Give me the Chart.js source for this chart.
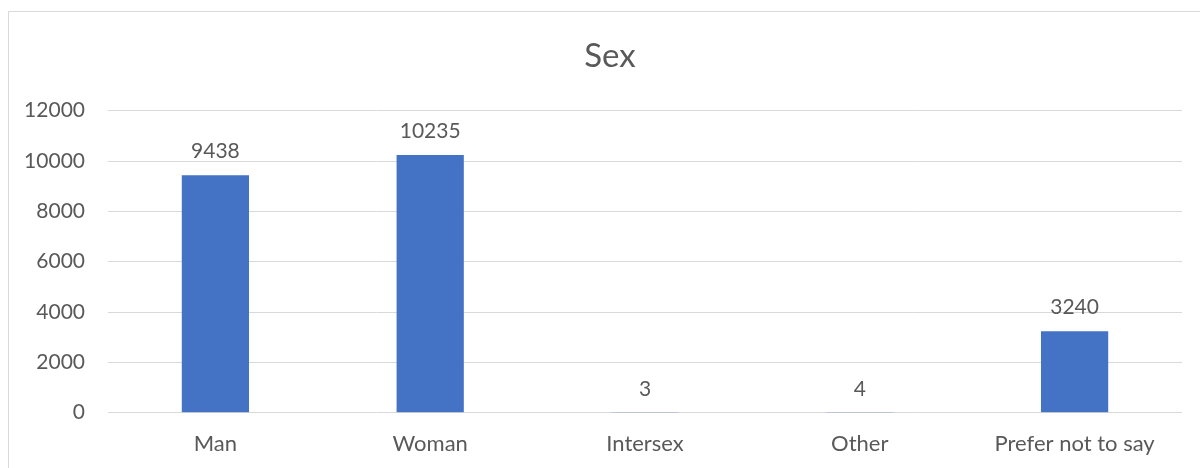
<!DOCTYPE html>
<html>
<head>
<meta charset="utf-8">
<script src="https://cdn.jsdelivr.net/npm/chart.js@4/dist/chart.umd.min.js"></script>
<style>
  html, body { margin: 0; padding: 0; background: #fff; }
  #wrap { position: relative; width: 1200px; height: 468px; overflow: hidden; }
  #frame { position: absolute; left: 8px; top: 11px; width: 1300px; height: 600px;
           border-left: 1px solid #d9d9d9; border-top: 1px solid #d9d9d9; }
  canvas { position: absolute; left: 0; top: 0; }
</style>
</head>
<body>
<div id="wrap">
  <div id="frame"></div>
  <canvas id="chart" width="1200" height="468"></canvas>
</div>
<script>
const categories = ['Man', 'Woman', 'Intersex', 'Other', 'Prefer not to say'];
const counts = [9438, 10235, 3, 4, 3240];
const yTicks = [0, 2000, 4000, 6000, 8000, 10000, 12000];
const chartTitle = 'Sex';

const textColor = '#595959';
const font = 'Lato, "Open Sans", sans-serif';

// title and value labels, drawn by hand so they sit where the reference has them
const overlay = {
  id: 'overlay',
  afterDatasetsDraw(chart) {
    const ctx = chart.ctx;
    const meta = chart.getDatasetMeta(0);
    ctx.save();
    ctx.fillStyle = textColor;
    ctx.textAlign = 'center';
    ctx.textBaseline = 'alphabetic';
    ctx.font = '33px ' + font;
    ctx.fillText(chartTitle, 610, 67);
    ctx.font = '21px ' + font;
    meta.data.forEach((bar, i) => {
      ctx.fillText(String(counts[i]), bar.x, bar.y - 17);
    });
    ctx.restore();
  }
};

new Chart(document.getElementById('chart'), {
  type: 'bar',
  data: {
    labels: categories,
    datasets: [{
      label: chartTitle,
      data: counts,
      backgroundColor: '#4472C4',
      categoryPercentage: 1,
      barPercentage: 0.313
    }]
  },
  options: {
    responsive: false,
    animation: false,
    layout: { padding: { left: 0, right: 18, top: 110.7, bottom: 0 } },
    plugins: {
      legend: { display: false },
      tooltip: { enabled: false },
      title: { display: false }
    },
    scales: {
      x: {
        grid: { display: false, drawTicks: false },
        border: { display: false },
        ticks: { color: textColor, font: { family: font, size: 22 }, padding: 18, maxRotation: 0 },
        afterFit(scale) { scale.height = 55.3; }
      },
      y: {
        min: 0,
        max: 12000,
        afterBuildTicks(scale) { scale.ticks = yTicks.map(v => ({ value: v })); },
        grid: { color: '#d9d9d9', lineWidth: 1, drawTicks: false },
        border: { display: false },
        ticks: {
          color: textColor,
          font: { family: font, size: 21 },
          padding: 23,
          callback: v => String(v)
        },
        afterFit(scale) { scale.width = 108; }
      }
    }
  },
  plugins: [overlay]
});
</script>
</body>
</html>
